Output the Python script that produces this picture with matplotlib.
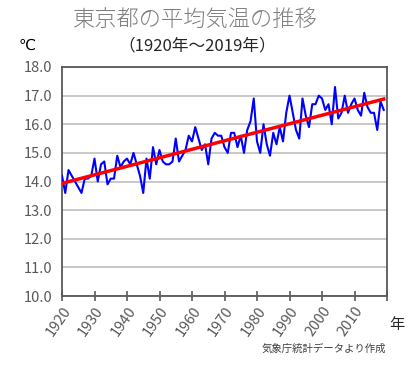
import numpy as np
import matplotlib
matplotlib.use("Agg")
import matplotlib.pyplot as plt

plt.rcParams['font.family'] = ['Noto Sans CJK JP', 'DejaVu Sans']

# annual mean temperature in Tokyo
years = list(range(1920, 2020))
temps = [
    14.2, 13.6, 14.4, 14.2, 14.0, 13.8, 13.6, 14.1, 14.1, 14.2,
    14.8, 14.0, 14.6, 14.7, 13.9, 14.1, 14.1, 14.9, 14.5, 14.7,
    14.8, 14.6, 15.0, 14.6, 14.2, 13.6, 14.8, 14.1, 15.2, 14.6,
    15.1, 14.7, 14.6, 14.6, 14.7, 15.5, 14.7, 14.9, 15.1, 15.6,
    15.4, 15.9, 15.5, 15.1, 15.3, 14.6, 15.5, 15.7, 15.6, 15.6,
    15.2, 15.0, 15.7, 15.7, 15.2, 15.6, 15.0, 15.8, 16.1, 16.9,
    15.4, 15.0, 16.0, 15.3, 14.9, 15.7, 15.3, 15.9, 15.4, 16.4,
    17.0, 16.4, 15.8, 15.5, 16.9, 16.3, 15.9, 16.7, 16.7, 17.0,
    16.9, 16.5, 16.7, 16.0, 17.3, 16.2, 16.4, 17.0, 16.4, 16.7,
    16.9, 16.5, 16.3, 17.1, 16.6, 16.4, 16.4, 15.8, 16.8, 16.5,
]
xticks = list(range(1920, 2030, 10))
xticklabels = [str(y) for y in range(1920, 2020, 10)] + ['']
yticks = [10, 11, 12, 13, 14, 15, 16, 17, 18]

fig = plt.figure(figsize=(4.1, 3.67), dpi=100)
ax = fig.add_axes([62 / 410, 71 / 367, 325 / 410, 229 / 367])

ax.plot(years, temps, color='#0000ff', lw=1.5, zorder=3)

# linear trend
coef = np.polyfit(years, temps, 1)
ends = np.array([years[0], years[-1]])
ax.plot(ends, np.polyval(coef, ends), color='#ff0000', lw=2.5, zorder=4)

ax.set_xlim(1920, 2020)
ax.set_ylim(10, 18)
ax.set_yticks(yticks)
ax.set_yticklabels([f'{v:.1f}' for v in yticks])
ax.set_xticks(xticks)
ax.set_xticklabels(xticklabels, rotation=55, ha='right', rotation_mode='anchor')

ax.grid(axis='y', color='#bfbfbf', lw=1.2)
ax.set_axisbelow(True)
for s in ax.spines.values():
    s.set_color('#595959')
    s.set_linewidth(1.3)
ax.tick_params(axis='y', length=0, labelsize=10.5, labelcolor='#595959', pad=7)
ax.tick_params(axis='x', direction='inout', length=7, width=1.2, color='#595959',
               labelsize=10.5, labelcolor='#595959', pad=2)

fig.text(195 / 410, 1 - 20 / 367, '東京都の平均気温の推移', fontsize=16,
         color='#7f7f7f', ha='center', va='center', fontweight='light')
fig.text(197 / 410, 1 - 46 / 367, '（1920年～2019年）', fontsize=12,
         color='#262626', ha='center', va='center')
fig.text(27 / 410, 1 - 45 / 367, '℃', fontsize=11, color='#000000',
         ha='center', va='center', family=['DejaVu Sans'])
fig.text(397 / 410, 1 - 325 / 367, '年', fontsize=11, color='#262626',
         ha='center', va='center')
fig.text(386 / 410, 1 - 349 / 367, '気象庁統計データより作成', fontsize=7.5,
         color='#404040', ha='right', va='center')

fig.savefig('out.png', dpi=100)
